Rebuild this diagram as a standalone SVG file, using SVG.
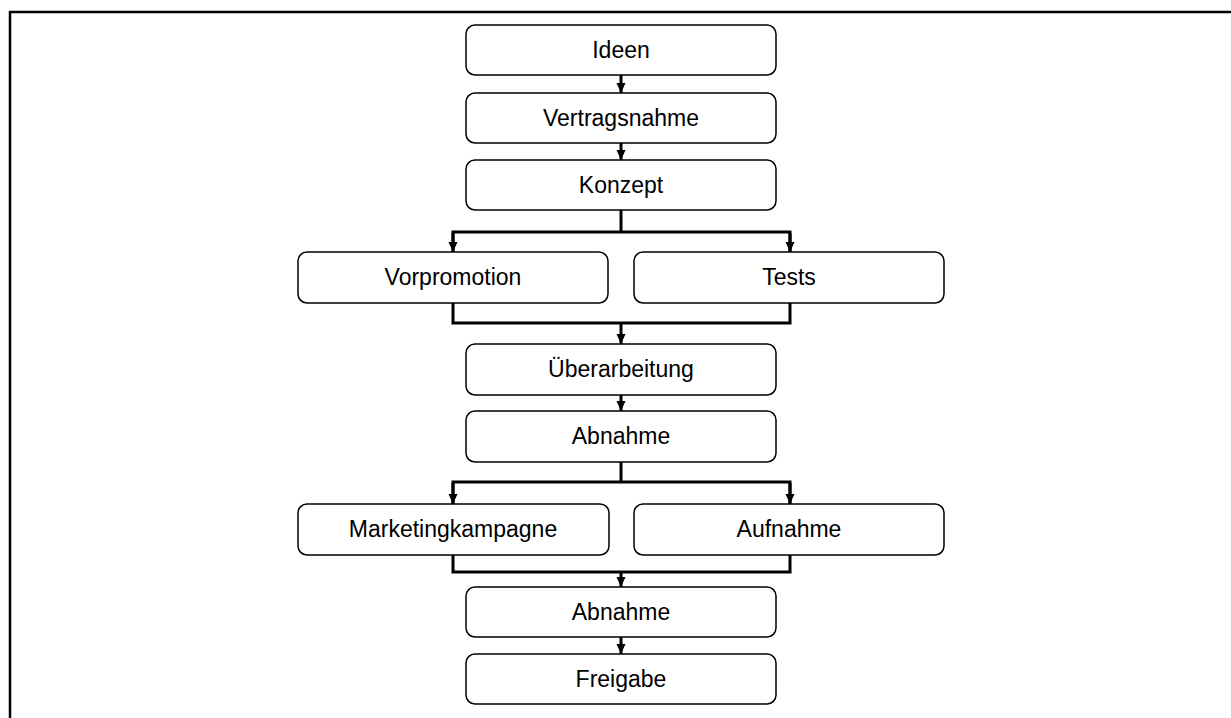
<svg xmlns="http://www.w3.org/2000/svg" width="1231" height="718" viewBox="0 0 1231 718">
<style>
.box{fill:#fff;stroke:#000;stroke-width:1.5}
.lbl{font-family:"Liberation Sans",Arial,Helvetica,sans-serif;font-size:23px;fill:#000;text-anchor:middle}
.con{fill:none;stroke:#000;stroke-width:3}
.frame{fill:none;stroke:#000;stroke-width:2.5}
</style>
<defs>
<marker id="ah" markerUnits="userSpaceOnUse" markerWidth="10" markerHeight="10" viewBox="0 0 10 10" refX="10" refY="5" orient="auto">
<path d="M0,0.5 L10,5 L0,9.5 Z" fill="#000"/>
</marker>
</defs>
<rect width="1231" height="718" fill="#fff"/>
<path class="frame" d="M10,718 V12 H1231"/>
<g id="connectors">
<path class="con" d="M621,75 V93" marker-end="url(#ah)"/>
<path class="con" d="M621,143 V160" marker-end="url(#ah)"/>
<path class="con" d="M621,210 V232"/>
<path class="con" d="M453,252 V232 H790 V252" />
<path class="con" d="M453,233 V252" marker-end="url(#ah)"/>
<path class="con" d="M790,233 V252" marker-end="url(#ah)"/>
<path class="con" d="M453,303 V323 H790 V303"/>
<path class="con" d="M621,323 V344" marker-end="url(#ah)"/>
<path class="con" d="M621,395 V411" marker-end="url(#ah)"/>
<path class="con" d="M621,462 V482"/>
<path class="con" d="M453,504 V482 H790 V504"/>
<path class="con" d="M453,483 V504" marker-end="url(#ah)"/>
<path class="con" d="M790,483 V504" marker-end="url(#ah)"/>
<path class="con" d="M453,555 V572 H790 V555"/>
<path class="con" d="M621,572 V587" marker-end="url(#ah)"/>
<path class="con" d="M621,637 V654" marker-end="url(#ah)"/>
</g>
<g id="n1"><rect class="box" x="466" y="25" width="310" height="50" rx="9"/><text class="lbl" x="621" y="58">Ideen</text></g>
<g id="n2"><rect class="box" x="466" y="93" width="310" height="50" rx="9"/><text class="lbl" x="621" y="126">Vertragsnahme</text></g>
<g id="n3"><rect class="box" x="466" y="160" width="310" height="50" rx="9"/><text class="lbl" x="621" y="193">Konzept</text></g>
<g id="n4"><rect class="box" x="298" y="252" width="310" height="51" rx="9"/><text class="lbl" x="453" y="285">Vorpromotion</text></g>
<g id="n5"><rect class="box" x="634" y="252" width="310" height="51" rx="9"/><text class="lbl" x="789" y="285">Tests</text></g>
<g id="n6"><rect class="box" x="466" y="344" width="310" height="51" rx="9"/><text class="lbl" x="621" y="377">Überarbeitung</text></g>
<g id="n7"><rect class="box" x="466" y="411" width="310" height="51" rx="9"/><text class="lbl" x="621" y="444">Abnahme</text></g>
<g id="n8"><rect class="box" x="298" y="504" width="311" height="51" rx="9"/><text class="lbl" x="453" y="537">Marketingkampagne</text></g>
<g id="n9"><rect class="box" x="634" y="504" width="310" height="51" rx="9"/><text class="lbl" x="789" y="537">Aufnahme</text></g>
<g id="n10"><rect class="box" x="466" y="587" width="310" height="50" rx="9"/><text class="lbl" x="621" y="620">Abnahme</text></g>
<g id="n11"><rect class="box" x="466" y="654" width="310" height="50" rx="9"/><text class="lbl" x="621" y="687">Freigabe</text></g>
</svg>
